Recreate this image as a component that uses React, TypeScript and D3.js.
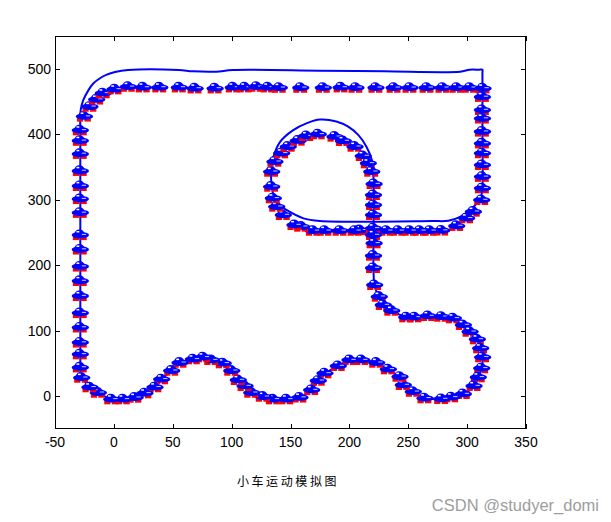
import React from 'react';
import * as d3 from 'd3';

const xTicks = [-50, 0, 50, 100, 150, 200, 250, 300, 350];
const yTicks = [0, 100, 200, 300, 400, 500];
const titleText = '小车运动模拟图';
const watermark = 'CSDN @studyer_domi';

// car positions (centres) along the track
const carX = [
  -27.3, -28.5, -28.5, -28.5, -28.5, -28.5, -28.5, -28.5, -28.5, -28.5, -28.5, -28.5, -28.5, -28.5, -28.5, -28.5, -28.5, -28.5, -25,
  -20.3, -14.6, -9, 1, 12.3,
  25, 39, 55.6, 69, 86, 101.4, 111.4, 121.3, 131, 140.5, 158.7, 177.9, 193, 205.6, 222.6, 238, 251.5, 266, 279.5, 291.4, 302.5, 313.5,
  313, 313, 313, 313, 313, 313, 313, 313, 313, 312.4,
  305.3, 299.6, 291.2,
  278.4, 268.5, 260, 251.5, 241.6, 231.7, 209, 204.8, 192.1, 179.3, 169.4, 159.5, 153.8,
  143.9, 138.3, 135.4, 134, 134, 136.8, 142.5, 148.1, 156.6, 163.8, 173.6, 187.8, 194.9, 204.8, 211.8, 216.1, 219, 221,
  220.5, 220.5, 220.5, 220.5, 220.5, 221, 220.5, 220.5, 221.5, 225.4, 228.8, 236,
  248.7, 255.7, 267, 278.4, 288.3, 296.8, 302.5, 308.7, 311.5, 313.2, 312.4, 309.5, 305.9, 296.8, 286.9, 278.4, 264.2,
  254.3, 245.8, 243, 233.1, 223.2, 210.5, 200.5, 190.6, 179.3, 173.6, 168, 158, 146.8, 135.4, 126.9,
  117.1, 111.4, 105.7, 100.1, 92.9, 83.1, 76, 67.5, 56.2, 49.1, 40.6, 34.9, 26.4, 17.9, 8, -1.8, -13.2, -20.3,
];
const carY = [
  28.3, 44, 64, 82, 105, 127, 153, 176, 198, 224, 246, 280, 301, 321, 344, 370, 390, 406, 427,
  442, 453, 462.5, 468.5, 472.5,
  471.5, 471.5, 471.5, 470, 470, 471.5, 471.5, 472.5, 471.5, 471, 471, 471, 471.5, 471, 471, 471, 471, 471, 471, 471, 471, 470,
  457, 437, 424, 404, 386, 371, 353, 335, 317.5, 299.6,
  281.8, 271.7, 260,
  253, 252.7, 252.7, 252.7, 252.7, 252.7, 253.5, 252.7, 252.7, 252.7, 252.7, 258.9, 261.4,
  276.7, 289.4, 302.2, 319.9, 342.8, 358.1, 370.9, 381, 390.2, 397.3, 399.9, 396.3, 389.7, 381, 366.8, 355.6, 342.8, 324,
  307.2, 292, 276.7, 256.4, 246.2, 233.5, 214.6, 195.8, 169.8, 152, 139.3, 130.6,
  120.5, 120.5, 122.5, 121.4, 119, 108.8, 98.5, 86.9, 73.2, 59.5, 42.7, 28.9, 15.6, 3.4, -1.6, -4.2, -3.1,
  6.9, 17.2, 29.8, 41.1, 51.2, 55.3, 55.3, 46.2, 35, 23.7, 9.5, -2, -4.7, -4.7, -0.7,
  5.4, 15.6, 24.8, 39, 50.3, 55.3, 59.5, 56.4, 51.2, 39, 25.9, 13.7, 4.5, -2.2, -4.7, -4.7, 5.4, 13.7,
];

// blue trajectory
const pathX = [
  -28.5, -28.5, -28.5, -28.5, -28.5, -28.2, -26, -21.7, -17.5, -11.8, -6, 1, 12, 55, 67, 87, 101, 175, 230, 294, 302, 310, 313,
  313, 313, 313, 313, 312, 309, 302.5, 294, 284, 270, 175, 161, 147, 138.5, 134.5, 133.5, 135, 141, 152, 164, 175, 189, 199, 207.5,
  214.5, 219, 220.5, 220.5, 220.5, 221.5, 225, 229, 236, 248, 256, 267, 278, 288, 297, 303, 308.5, 311.5, 313, 312.5, 309.5,
  306, 297, 287, 278, 264, 254, 246, 241, 233, 223, 210.5, 200.5, 190.5, 179.5, 173.5, 167.5, 158, 147, 135.5, 127, 117,
  111, 105.5, 100, 93, 83, 76, 67.5, 56, 49, 40.5, 35, 26.5, 18, 8, -2, -13, -20.5, -27.3,
];
const pathY = [
  28, 100, 200, 300, 400, 437, 452, 467, 477.5, 485.5, 491, 495, 498, 498, 496, 495.5, 498, 497, 496, 495.5, 498.5, 498.5, 498.5,
  494, 470, 400, 320, 306, 296, 284.5, 274, 268, 267.5, 267.5, 271.5, 284, 295, 315, 340, 362, 388, 406, 417, 422.5, 419.5, 411.5, 399,
  381, 361, 335, 250, 190, 168, 152, 139, 130.5, 121.5, 120.5, 121.5, 121, 118.5, 109, 98, 87, 73, 59.5, 43, 29,
  15.5, 3.5, -1.5, -4, -3, 7, 17.5, 30, 41, 51, 55.5, 55.5, 46, 35, 23.5, 9.5, -2, -4.5, -4.5, -1, 5.5,
  15.5, 25, 39, 50.5, 56, 59, 56.5, 51, 39, 26, 14, 4.5, -2.5, -4.5, -4.5, 5.5, 13.5, 28.3,
];

const BLUE = '#0000ff';
const RED = '#ff0000';

function Car({ px, py }: { px: number; py: number }) {
  return (
    <g transform={`translate(${px},${py})`}>
      <rect x={-7.5} y={1.4} width={6.2} height={3.6} fill={RED} />
      <rect x={0} y={1.4} width={6.4} height={3.6} fill={RED} />
      <path d="M -6 -0.5 Q -5.4 -5.6 -1 -5.6 Q 3.4 -5.6 4.6 -0.5 Z" fill={BLUE} />
      <ellipse cx={0} cy={0} rx={8.7} ry={3.2} fill={BLUE} />
      <rect x={-3.8} y={-4.1} width={2.8} height={1.5} fill="#fff" />
      <line x1={1.5} x2={5.8} y1={-0.7} y2={-0.7} stroke="#fff" strokeWidth={0.8} />
    </g>
  );
}

export default function App() {
  const W = 611;
  const H = 522;
  const L = 55, R = 526, T = 36, B = 429;
  const x = d3.scaleLinear().domain([-50, 350]).range([L, R]);
  const y = d3.scaleLinear().domain([-50, 550]).range([B, T]);
  const line = d3
    .line<number>()
    .x((i) => x(pathX[i]))
    .y((i) => y(pathY[i]))
    .curve(d3.curveCatmullRom.alpha(0.5));
  const d = line(pathX.map((_, i) => i)) || '';
  const font = '"Liberation Sans", Arial, sans-serif';
  const tick = 5;

  return (
    <svg
      width={W}
      height={H}
      style={{ position: 'absolute', left: 0, top: 0, background: '#fff' }}
    >
      <rect x={0} y={0} width={W} height={H} fill="#fff" />
      <defs>
        <clipPath id="plotClip">
          <rect x={L} y={T} width={R - L} height={B - T} />
        </clipPath>
      </defs>
      <g clipPath="url(#plotClip)">
        <path d={d} fill="none" stroke={BLUE} strokeWidth={2} />
        {carX.map((cx, i) => (
          <Car key={i} px={x(cx)} py={y(carY[i])} />
        ))}
      </g>
      {/* axes box */}
      <rect x={L + 0.5} y={T + 0.5} width={R - L - 1} height={B - T - 1} fill="none" stroke="#000" strokeWidth={1} />
      {xTicks.map((v) => {
        const px = Math.round(x(v)) + 0.5;
        return (
          <g key={'x' + v}>
            <line x1={px} x2={px} y1={B} y2={B - tick} stroke="#000" />
            <line x1={px} x2={px} y1={T} y2={T + tick} stroke="#000" />
            <text x={x(v)} y={447} textAnchor="middle" fontFamily={font} fontSize={14} fill="#000">
              {v}
            </text>
          </g>
        );
      })}
      {yTicks.map((v) => {
        const py = Math.round(y(v)) + 0.5;
        return (
          <g key={'y' + v}>
            <line x1={L} x2={L + tick} y1={py} y2={py} stroke="#000" />
            <line x1={R} x2={R - tick} y1={py} y2={py} stroke="#000" />
            <text x={51} y={y(v)} dy="0.36em" textAnchor="end" fontFamily={font} fontSize={14} fill="#000">
              {v}
            </text>
          </g>
        );
      })}
      <text
        x={288}
        y={486}
        textAnchor="middle"
        fontFamily='"Noto Sans CJK SC", sans-serif'
        fontSize={12}
        letterSpacing={2.6}
        fill="#000"
      >
        {titleText}
      </text>
      <text x={599} y={511} textAnchor="end" fontFamily={font} fontSize={16.5} fill="#9c9c9c">
        {watermark}
      </text>
    </svg>
  );
}
